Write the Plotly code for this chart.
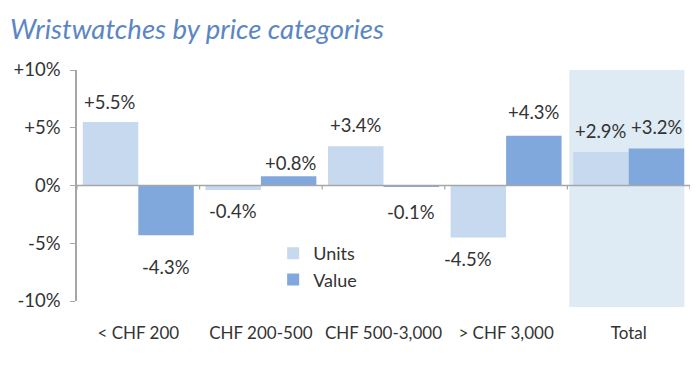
import plotly.graph_objects as go

categories = ["< CHF 200", "CHF 200-500", "CHF 500-3,000", "> CHF 3,000", "Total"]
units = [5.5, -0.4, 3.4, -4.5, 2.9]
value = [-4.3, 0.8, -0.1, 4.3, 3.2]
ytick_vals = [10, 5, 0, -5, -10]
ytick_text = ["+10%", "+5%", "0%", "-5%", "-10%"]

# label offsets in px (style only)
units_label_shift = [20, -21, 21, -22, 21]
value_label_shift = [-32, 13, -25, 24, 22]
units_label_xshift = [-28, -28, -28, -38, -28]
value_label_xshift = [28, 30, 27, 28, 28]

c_units = "#c6d9ef"
c_value = "#80a8dd"
FONT = "Lato, Carlito, Calibri, sans-serif"

fig = go.Figure()
fig.add_trace(go.Bar(name="Units", x=categories, y=units, marker=dict(color=c_units, line=dict(width=0))))
fig.add_trace(go.Bar(name="Value", x=categories, y=value, marker=dict(color=c_value, line=dict(width=0))))

def fmt(v):
    return ("+" if v > 0 else "") + f"{v:.1f}%"

annotations = []
for series, shifts, xshifts in ((units, units_label_shift, units_label_xshift),
                                (value, value_label_shift, value_label_xshift)):
    for cat, v, s, xs in zip(categories, series, shifts, xshifts):
        annotations.append(dict(
            x=cat, y=v, xref="x", yref="y", text=fmt(v), showarrow=False,
            xshift=xs, yshift=s,
            font=dict(family=FONT, size=18.5, color="#333333")))

shapes = [dict(type="rect", xref="x", yref="paper", x0=len(categories) - 1.484, x1=len(categories) - 0.546,
               y0=-0.026, y1=1.0, fillcolor="#deebf5", line=dict(width=0), layer="below")]
shapes.append(dict(type="line", xref="paper", yref="y", x0=0, x1=1, y0=0, y1=0,
                   line=dict(color="#a6a6a6", width=1.5), layer="above"))
for k in range(len(categories) + 1):
    shapes.append(dict(type="line", xref="x", yref="y", x0=k - 0.5, x1=k - 0.5, y0=0, y1=-0.35,
                       line=dict(color="#a6a6a6", width=1.2)))

fig.update_layout(
    width=692, height=359,
    margin=dict(l=69, r=10, t=62, b=66),
    paper_bgcolor="white", plot_bgcolor="rgba(0,0,0,0)",
    barmode="group", bargap=0.095, bargroupgap=0,
    title=dict(text="<i>Wristwatches by price categories</i>", x=0.003, xanchor="left", y=0.94, yanchor="middle",
               font=dict(family="Lato, Noto Sans, sans-serif", size=27.5, color="#5b86c4")),
    font=dict(family=FONT, size=17, color="#333333"),
    legend=dict(x=0.32, y=0.286, xanchor="left", yanchor="top", bgcolor="rgba(0,0,0,0)",
                font=dict(family=FONT, size=18, color="#333333"), itemwidth=30, tracegroupgap=5),
    annotations=annotations, shapes=shapes,
    xaxis=dict(showline=False, ticks="", showgrid=False, zeroline=False, ticklabelstandoff=20,
               automargin=False, range=[-0.5, 4.5],
               tickfont=dict(family=FONT, size=17, color="#333333")),
    yaxis=dict(range=[-10, 10], tickvals=ytick_vals, ticktext=ytick_text, showline=True,
               linecolor="#a6a6a6", linewidth=1.5, ticks="outside", ticklen=5, tickcolor="#a6a6a6",
               ticklabelstandoff=6, automargin=False,
               showgrid=False, zeroline=False, tickfont=dict(family=FONT, size=18.5, color="#333333")),
)

fig.write_html("out.html")
